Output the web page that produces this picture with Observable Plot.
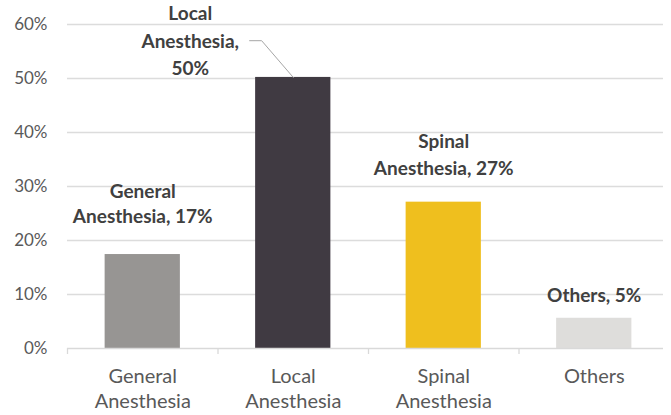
<!DOCTYPE html>
<html>
<head>
<meta charset="utf-8">
<script src="https://cdn.jsdelivr.net/npm/d3@7"></script>
<script src="https://cdn.jsdelivr.net/npm/@observablehq/plot@0.6"></script>
<style>
  html, body { margin: 0; padding: 0; background: #ffffff; }
  #chart { width: 671px; height: 415px; }
</style>
</head>
<body>
<div id="chart"></div>
<script>
const categories = ["General\nAnesthesia", "Local\nAnesthesia", "Spinal\nAnesthesia", "Others"];
const values = [17.4, 50.2, 27.1, 5.6];
const valueLabels = ["General\nAnesthesia, 17%", "Local\nAnesthesia,\n50%", "Spinal\nAnesthesia, 27%", "Others, 5%"];
const barColors = ["#979593", "#403a42", "#efbf1e", "#dedddb"];
const yTicks = [0, 10, 20, 30, 40, 50, 60];

const data = categories.map((c, i) => ({i, category: c, value: values[i], label: valueLabels[i], color: barColors[i]}));

const half = 0.25;      // half bar width in band units
const gridEnd = 3.46;   // right end of gridlines

function label(i, dx, dy, lineHeight) {
  return Plot.text([data[i]], {
    x: "i", y: "value", text: "label",
    dx, dy, lineAnchor: "bottom", lineHeight,
    fontSize: 19, fontWeight: "bold", fill: "#404040"
  });
}

// leader line for the Local label, anchored on the Local bar's top
const li = 1;
const leader = [
  {x: li - 0.29, y: values[li] + 6.8},
  {x: li - 0.21, y: values[li] + 6.8},
  {x: li, y: values[li]}
];

const chart = Plot.plot({
  width: 671,
  height: 415,
  marginTop: 24,
  marginBottom: 67,
  marginLeft: 67,
  marginRight: 2,
  style: {fontFamily: "Lato, 'Open Sans', sans-serif", background: "#ffffff"},
  x: {type: "linear", domain: [-0.5, 3.5], axis: null},
  y: {domain: [0, 60], axis: null},
  color: {type: "identity"},
  marks: [
    Plot.ruleY(yTicks.slice(1), {x1: -0.5, x2: gridEnd, stroke: "#dcdcdc", strokeWidth: 1.3}),
    Plot.rectY(data, {x1: d => d.i - half, x2: d => d.i + half, y1: 0, y2: "value", fill: "color"}),
    Plot.ruleY([0], {x1: -0.5, x2: gridEnd, stroke: "#d9d9d9", strokeWidth: 1.3}),
    Plot.axisX({ticks: [-0.5, 0.5, 1.5, 2.5], tickSize: 6, tickFormat: () => "", stroke: "#d9d9d9", strokeWidth: 1.3}),
    Plot.axisX({ticks: [0, 1, 2, 3], tickSize: 0, tickPadding: 17, tickFormat: i => categories[i],
      fontSize: 20, fill: "#595959", lineHeight: 1.25}),
    Plot.axisY({ticks: yTicks, tickSize: 0, tickPadding: 20, tickFormat: d => d + "%",
      fontSize: 17, fill: "#595959"}),
    Plot.line(leader, {x: "x", y: "y", stroke: "#a6a6a6", strokeWidth: 1}),
    label(0, 0, -32, 1.3),
    label(1, -103, -2, 1.45),
    label(2, 0, -27, 1.45),
    label(3, 0, -16, 1.3)
  ]
});

document.getElementById("chart").appendChild(chart);
</script>
</body>
</html>
